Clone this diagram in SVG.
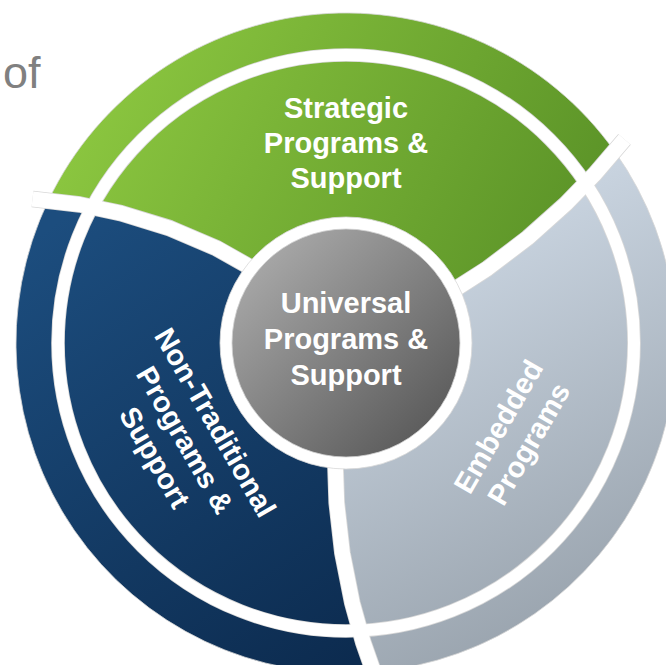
<svg xmlns="http://www.w3.org/2000/svg" width="666" height="665" viewBox="0 0 666 665">
<defs>
<linearGradient id="gGreen" gradientUnits="userSpaceOnUse" x1="100" y1="60" x2="560" y2="300">
<stop offset="0" stop-color="#8cc740"/><stop offset="1" stop-color="#5a9227"/>
</linearGradient>
<linearGradient id="gBlue" gradientUnits="userSpaceOnUse" x1="60" y1="220" x2="360" y2="660">
<stop offset="0" stop-color="#1c4d7e"/><stop offset="1" stop-color="#0c2b4f"/>
</linearGradient>
<linearGradient id="gSilver" gradientUnits="userSpaceOnUse" x1="450" y1="250" x2="640" y2="620">
<stop offset="0" stop-color="#c8d3df"/><stop offset="1" stop-color="#96a0aa"/>
</linearGradient>
<linearGradient id="gGray" gradientUnits="userSpaceOnUse" x1="250" y1="250" x2="440" y2="450">
<stop offset="0" stop-color="#ababab"/><stop offset="1" stop-color="#555555"/>
</linearGradient>
<style>
.lbl{font-family:"Liberation Sans",Arial,sans-serif;font-weight:bold;font-size:29px;fill:#ffffff;text-anchor:middle}
.seg{stroke:#d6d6d6;stroke-width:0.8}
.edge{fill:none;stroke:#d8d8d8;stroke-linejoin:round}
.gap{fill:none;stroke:#ffffff;stroke-linejoin:round}
</style>
</defs>
<rect width="666" height="665" fill="#ffffff"/>
<text x="3" y="88" font-family="'Liberation Sans',Arial,sans-serif" font-size="45" fill="#808080">of</text>

<g id="strategic">
<path class="seg" fill="url(#gGreen)" d="M346,343 L260.95,273.24 L217.0,248.4 L170.1,228.3 L120.8,213.1 L79.9,204.5 L48.4,200.4 A330,330 0 0 1 614.7,151.4 L594.3,174.6 L565.7,204.0 L527.8,237.8 L487.6,268.4 L445.3,295.6 Z"/>
<text class="lbl"><tspan x="346" y="118">Strategic</tspan><tspan x="346" y="153">Programs &amp;</tspan><tspan x="346" y="188">Support</tspan></text>
</g>

<g id="embedded">
<path class="seg" fill="url(#gSilver)" d="M346,343 L445.3,295.6 L487.6,268.4 L527.8,237.8 L565.7,204.0 L594.3,174.6 L614.7,151.4 A330,330 0 0 1 373.2,671.9 L363.3,642.5 L352.3,602.9 L342.4,553.0 L336.7,502.7 L335.0,452.5 Z"/>
<g transform="translate(513,435) rotate(-60)">
<text class="lbl"><tspan x="0" y="-7">Embedded</tspan><tspan x="0" y="28">Programs</tspan></text>
</g>
</g>

<g id="nontraditional">
<path class="seg" fill="url(#gBlue)" d="M346,343 L335.0,452.5 L336.7,502.7 L342.4,553.0 L352.3,602.9 L363.3,642.5 L373.2,671.9 A330,330 0 0 1 48.4,200.4 L79.9,204.5 L120.8,213.1 L170.1,228.3 L217.0,248.4 L260.95,273.24 Z"/>
<g transform="translate(185,440) rotate(60)">
<text class="lbl"><tspan x="0" y="-25">Non-Traditional</tspan><tspan x="0" y="10">Programs &amp;</tspan><tspan x="0" y="45">Support</tspan></text>
</g>
</g>

<g id="gaps">
<circle class="edge" cx="346" cy="343" r="288" stroke-width="13.6"/>
<path class="edge" stroke-width="16.6" d="M260.95,273.24 L217.0,248.4 L170.1,228.3 L120.8,213.1 L79.9,204.5 L32.5,199.0"/>
<path class="edge" stroke-width="16.6" d="M445.3,295.6 L487.6,268.4 L527.8,237.8 L565.7,204.0 L594.3,174.6 L624.5,139.3"/>
<path class="edge" stroke-width="16.6" d="M335.0,452.5 L336.7,502.7 L342.4,553.0 L352.3,602.9 L363.3,642.5 L378.7,686.4"/>
<circle class="gap" cx="346" cy="343" r="288" stroke-width="12"/>
<path class="gap" stroke-width="15" d="M260.95,273.24 L217.0,248.4 L170.1,228.3 L120.8,213.1 L79.9,204.5 L32.5,199.0"/>
<path class="gap" stroke-width="15" d="M445.3,295.6 L487.6,268.4 L527.8,237.8 L565.7,204.0 L594.3,174.6 L624.5,139.3"/>
<path class="gap" stroke-width="15" d="M335.0,452.5 L336.7,502.7 L342.4,553.0 L352.3,602.9 L363.3,642.5 L378.7,686.4"/>
</g>

<g id="universal">
<circle cx="346" cy="343" r="126" fill="#ffffff" stroke="#d8d8d8" stroke-width="0.8"/>
<circle cx="346" cy="343" r="114" fill="url(#gGray)" stroke="#d0d0d0" stroke-width="0.8"/>
<text class="lbl"><tspan x="346" y="313">Universal</tspan><tspan x="346" y="349">Programs &amp;</tspan><tspan x="346" y="385">Support</tspan></text>
</g>
</svg>
